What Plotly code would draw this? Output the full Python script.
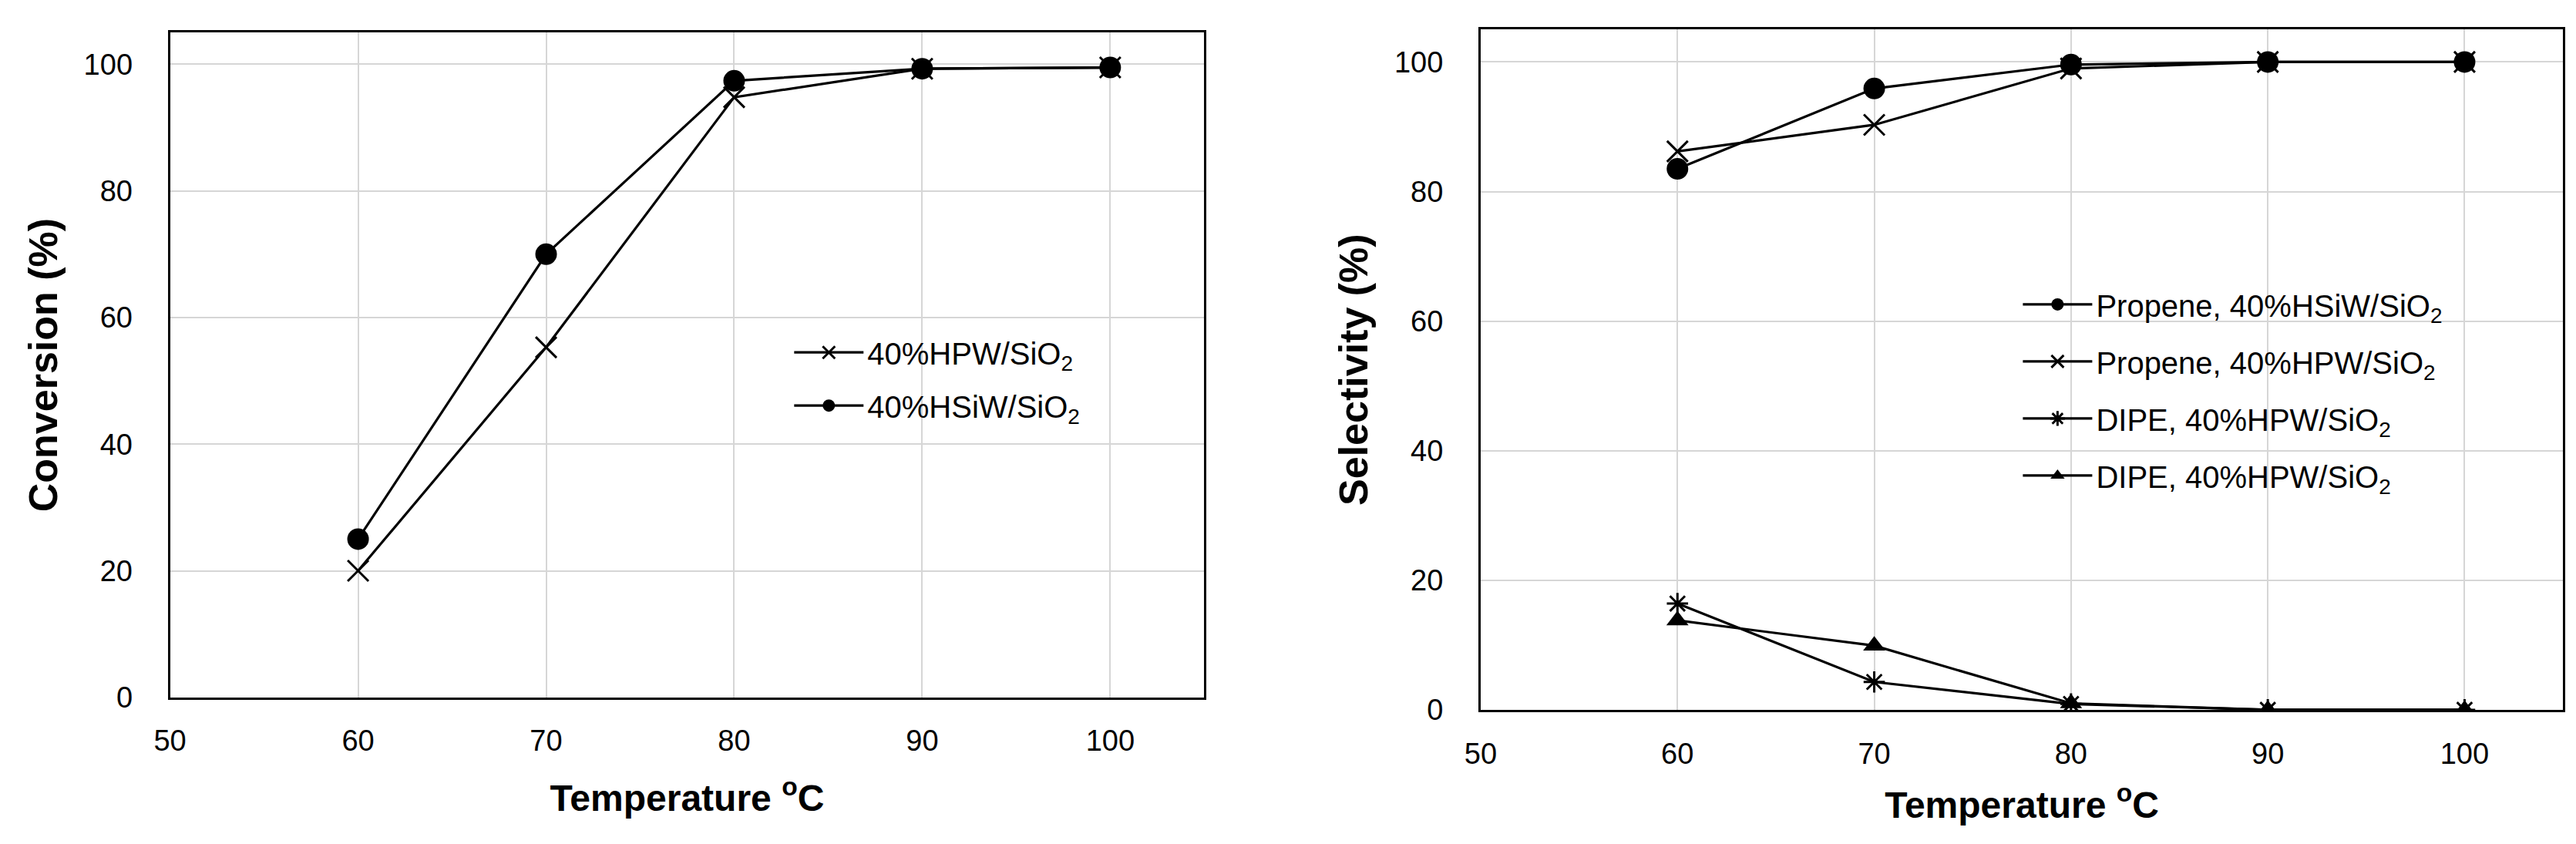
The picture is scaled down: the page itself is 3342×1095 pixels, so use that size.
import plotly.graph_objects as go

# temperature (deg C)
temps = [60, 70, 80, 90, 100]

# left panel: conversion (%)
conv_hpw = [20.0, 55.3, 94.8, 99.3, 99.5]
conv_hsiw = [25.0, 70.0, 97.4, 99.3, 99.5]

# right panel: selectivity (%)
sel_propene_hsiw = [83.5, 95.9, 99.6, 100.0, 100.0]
sel_propene_hpw = [86.2, 90.3, 99.0, 100.0, 100.0]
sel_dipe_hpw_a = [16.4, 4.3, 0.9, 0.0, 0.0]
sel_dipe_hpw_b = [13.8, 9.9, 1.0, 0.0, 0.0]

x_ticks = [50, 60, 70, 80, 90, 100]
y_ticks = [0, 20, 40, 60, 80, 100]

FONT = "Liberation Sans, Arial, sans-serif"
BLACK = "#000000"
GRID = "#d6d6d6"


def line_trace(y, name, symbol, size, xaxis, yaxis, legend, group):
    filled = symbol in ("circle", "triangle-up")
    return go.Scatter(
        x=temps, y=y, name=name, mode="lines+markers",
        xaxis=xaxis, yaxis=yaxis, legend=legend, legendgroup=group,
        line=dict(color=BLACK, width=3.2),
        marker=dict(symbol=symbol, size=size, color=BLACK,
                    line=dict(color=BLACK, width=0 if filled else 3)),
    )


fig = go.Figure()

fig.add_trace(line_trace(conv_hpw, "40%HPW/SiO<sub>2</sub>", "x-thin", 27, "x", "y", "legend", "a"))
fig.add_trace(line_trace(conv_hsiw, "40%HSiW/SiO<sub>2</sub>", "circle", 28, "x", "y", "legend", "b"))

fig.add_trace(line_trace(sel_propene_hsiw, "Propene, 40%HSiW/SiO<sub>2</sub>", "circle", 28, "x2", "y2", "legend2", "c"))
fig.add_trace(line_trace(sel_propene_hpw, "Propene, 40%HPW/SiO<sub>2</sub>", "x-thin", 27, "x2", "y2", "legend2", "d"))
fig.add_trace(line_trace(sel_dipe_hpw_a, "DIPE, 40%HPW/SiO<sub>2</sub>", "asterisk", 23, "x2", "y2", "legend2", "e"))
fig.add_trace(line_trace(sel_dipe_hpw_b, "DIPE, 40%HPW/SiO<sub>2</sub>", "triangle-up", 25, "x2", "y2", "legend2", "f"))


def x_axis(domain, anchor, standoff):
    return dict(
        domain=domain, anchor=anchor, range=[50, 105], tickvals=x_ticks,
        showline=True, mirror=True, linecolor=BLACK, linewidth=3,
        showgrid=True, gridcolor=GRID, gridwidth=2, zeroline=False,
        ticks="", ticklabelstandoff=21,
        tickfont=dict(family=FONT, size=38, color=BLACK),
        title=dict(text="<b>Temperature <sup>o</sup>C</b>", standoff=standoff,
                   font=dict(family=FONT, size=48, color=BLACK)),
    )


def y_axis(domain, anchor, title):
    return dict(
        domain=domain, anchor=anchor, range=[0, 105], tickvals=y_ticks,
        showline=True, mirror=True, linecolor=BLACK, linewidth=3,
        showgrid=True, gridcolor=GRID, gridwidth=2, zeroline=False,
        ticks="", ticklabelstandoff=38,
        tickfont=dict(family=FONT, size=38, color=BLACK),
        title=dict(text=f"<b>{title}</b>", standoff=18,
                   font=dict(family=FONT, size=52, color=BLACK)),
    )


legend_style = dict(
    font=dict(family=FONT, size=40, color=BLACK),
    bgcolor="rgba(0,0,0,0)", borderwidth=0,
    xanchor="left", yanchor="top", itemwidth=90,
)

fig.update_layout(
    width=3342, height=1095,
    margin=dict(l=0, r=0, t=0, b=0),
    paper_bgcolor="white", plot_bgcolor="white",
    font=dict(family=FONT, color=BLACK),
    xaxis=x_axis([0.0577, 0.4617], "y", 38),
    yaxis=y_axis([0.165, 0.968], "x", "Conversion (%)"),
    xaxis2=x_axis([0.5697, 0.9925], "y2", 30),
    yaxis2=y_axis([0.150, 0.9717], "x2", "Selectivity (%)"),
    legend=dict(x=0.300, y=0.612, tracegroupgap=14, **legend_style),
    legend2=dict(x=0.780, y=0.670, tracegroupgap=19, **legend_style),
)

fig.write_html("out.html")
